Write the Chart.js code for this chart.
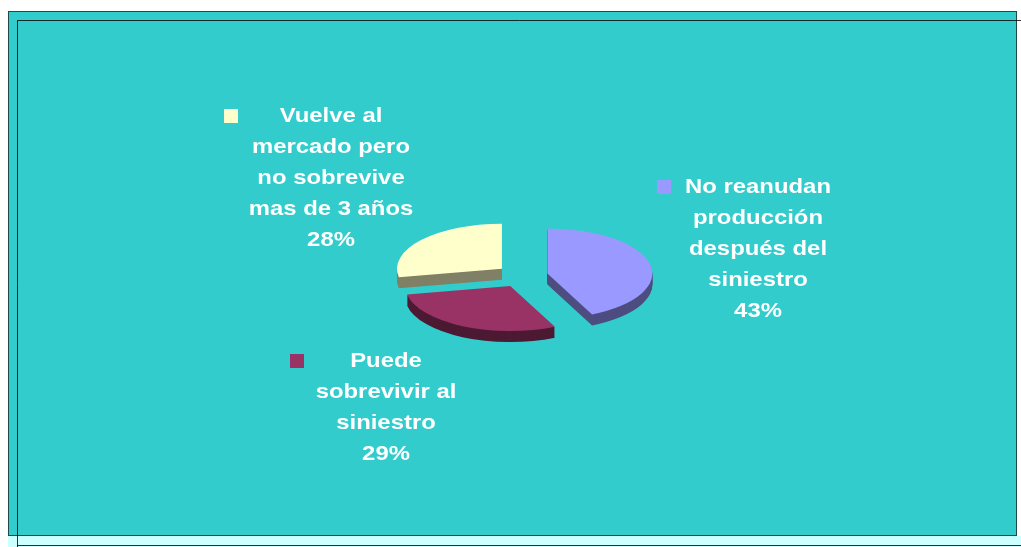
<!DOCTYPE html>
<html>
<head>
<meta charset="utf-8">
<script src="https://cdn.jsdelivr.net/npm/chart.js"></script>
<style>
  html, body { margin: 0; padding: 0; background: #fff; }
  canvas { display: block; }
</style>
</head>
<body>
<canvas id="pieChart" width="1021" height="547"></canvas>
<script>
// slice order = clockwise from 12 o'clock
const categories = [
    ['No reanudan', 'producción', 'después del', 'siniestro'],
    ['Puede', 'sobrevivir al', 'siniestro'],
    ['Vuelve al', 'mercado pero', 'no sobrevive', 'mas de 3 años']
];
const shares = [43, 29, 28];
const topColors = ['#9999FF', '#993366', '#FFFFCC'];
const sideColors = ['#4D4D80', '#4D1A33', '#808066'];

// label blocks: text centre x, first baseline y, legend square x
const labelLayout = [
    { cx: 758, y: 193, sq: 657 },
    { cx: 386, y: 367, sq: 290 },
    { cx: 331, y: 122, sq: 224 }
];

const TILT = 0.43;      // vertical squash of the pie
const DEPTH = 11;       // thickness in px
const EXPLODE = 26;     // distance slices are pulled out
const LINE_H = 31;
const TEXT_STRETCH = 1.165;

const ctx = document.getElementById('pieChart').getContext('2d');

function tiltAbout(c, cx, cy, dy) {
    c.translate(cx, cy + dy);
    c.scale(1, TILT);
    c.translate(-cx, -cy);
}

const pie3d = {
    id: 'pie3d',
    beforeDraw(chart) {
        const c = chart.ctx;
        c.save();
        c.fillStyle = '#fff';
        c.fillRect(0, 0, chart.width, chart.height);
        c.fillStyle = '#CCFFFF';
        c.fillRect(8, 536, 1013, 11);
        c.fillStyle = '#33CCCC';
        c.fillRect(8, 11, 1009, 525);
        c.lineWidth = 1;
        c.strokeStyle = '#1E4A4A';
        c.strokeRect(8.5, 11.5, 1008, 524);
        c.strokeStyle = 'rgba(0,0,0,0.8)';
        c.beginPath();
        c.moveTo(17.5, 547);
        c.lineTo(17.5, 20.5);
        c.lineTo(1021, 20.5);
        c.stroke();
        c.beginPath();
        c.moveTo(17, 545.5);
        c.lineTo(1021, 545.5);
        c.stroke();
        c.restore();
    },
    beforeDatasetsDraw(chart) {
        const c = chart.ctx;
        const arcs = chart.getDatasetMeta(0).data;
        const cx = arcs[0].x, cy = arcs[0].y;
        // copies of the library's arcs, pulled out along their bisector
        const piece = (arc, color) => {
            const mid = (arc.startAngle + arc.endAngle) / 2;
            return Object.create(arc, {
                x: { value: arc.x + Math.cos(mid) * EXPLODE, writable: true },
                y: { value: arc.y + Math.sin(mid) * EXPLODE, writable: true },
                options: { value: Object.assign({}, arc.options, { backgroundColor: color, borderWidth: 0, offset: 0 }) }
            });
        };
        for (let d = DEPTH; d >= 1; d--) {
            c.save();
            tiltAbout(c, cx, cy, d);
            arcs.forEach((arc, i) => piece(arc, sideColors[i]).draw(c));
            c.restore();
        }
        c.save();
        tiltAbout(c, cx, cy, 0);
        arcs.forEach((arc, i) => piece(arc, topColors[i]).draw(c));
        c.restore();
        return false;
    },
    afterDraw(chart) {
        const c = chart.ctx;
        c.save();
        c.font = 'bold 20.5px "Liberation Sans", Arial, sans-serif';
        c.textAlign = 'center';
        c.textBaseline = 'alphabetic';
        categories.forEach((lines, i) => {
            const lay = labelLayout[i];
            c.fillStyle = topColors[i];
            c.fillRect(lay.sq, lay.y - 13, 14, 14);
            c.fillStyle = '#fff';
            lines.concat([shares[i] + '%']).forEach((t, k) => {
                c.save();
                c.translate(lay.cx, lay.y + k * LINE_H);
                c.scale(TEXT_STRETCH, 1);
                c.fillText(t, 0, 0);
                c.restore();
            });
        });
        c.restore();
    }
};

new Chart(ctx, {
    type: 'pie',
    data: {
        labels: categories,
        datasets: [{
            data: shares,
            backgroundColor: topColors,
            borderWidth: 0,
            clip: false
        }]
    },
    options: {
        responsive: false,
        animation: false,
        radius: 105,
        layout: {
            padding: { left: 23, right: 0, top: 5, bottom: 0 }
        },
        plugins: {
            legend: { display: false },
            tooltip: { enabled: false }
        }
    },
    plugins: [pie3d]
});
</script>
</body>
</html>
